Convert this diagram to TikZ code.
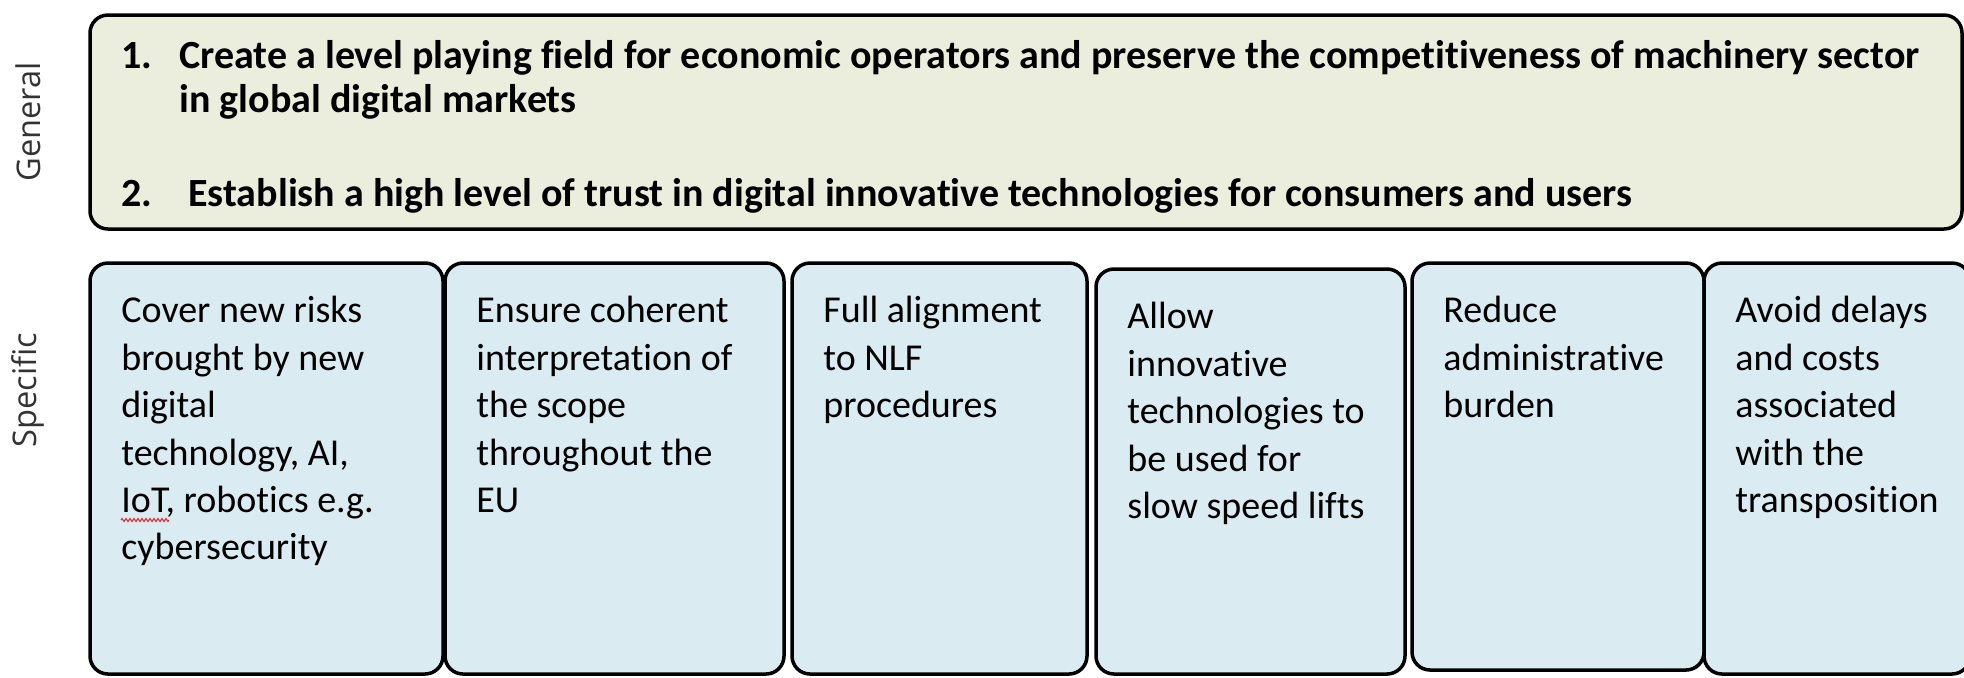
\documentclass[tikz,border=0pt]{standalone}
\usepackage{fontspec}
\setmainfont{Carlito}[Ligatures=NoCommon]
\newfontfamily\sidefont{Open Sans}
\usepackage{xcolor}
\usepackage{tikz}
\usetikzlibrary{positioning,decorations.pathmorphing}
\definecolor{goalFill}{HTML}{EBEEDD}
\definecolor{specFill}{HTML}{DAEBF1}
\definecolor{sideGray}{HTML}{333333}
\definecolor{spellRed}{HTML}{E0303A}

\begin{document}
\begin{tikzpicture}[
  x=1pt, y=1pt,
  goal/.style={rectangle, rounded corners=9pt, draw=black, line width=1.75pt, fill=goalFill,
    outer sep=0pt, inner sep=0pt},
  spec/.style={rectangle, rounded corners=9pt, draw=black, line width=1.75pt, fill=specFill,
    minimum height=205.5pt, outer sep=0pt, inner sep=0pt},
  goaltxt/.style={align=left, inner sep=0pt, font=\fontsize{20}{22}\selectfont\bfseries},
  spectxt/.style={align=left, inner sep=0pt, font=\fontsize{19}{23.7}\selectfont},
  side/.style={rotate=90, font=\sidefont\fontsize{16.3}{18}\selectfont, text=sideGray}
]
  \useasboundingbox (0,0) rectangle (982,-338.5);

  \node[goal, minimum width=936pt, minimum height=107pt, anchor=north west] (gen) at (45,-7.5) {};
  \node[goaltxt, below right=12.5pt and 15.5pt of gen.north west] (gentxt)
    {\makebox[29pt][l]{1.}Create a level playing field for economic operators and preserve the competitiveness of machinery sector\\
     \hspace*{29pt}in global digital markets\\[25pt]
     \makebox[33.5pt][l]{2.}Establish a high level of trust in digital innovative technologies for consumers and users};

  \node[spec, minimum width=176.5pt, anchor=north west] (s1) at (45,-131.5) {};
  \node[spec, minimum width=169.5pt, right=1pt of s1] (s2) {};
  \node[spec, minimum width=147.5pt, right=4pt of s2] (s3) {};
  \node[spec, minimum width=154.5pt, minimum height=202.5pt, right=4.5pt of s3, yshift=-1.5pt] (s4) {};
  \node[spec, minimum width=146pt, minimum height=203.5pt, right=3.5pt of s4, yshift=2.5pt] (s5) {};
  \node[spec, minimum width=133pt, right=0pt of s5, yshift=-1pt] (s6) {};

  \foreach \n/\txt in {s1/{Cover new risks\\brought by new\\digital\\technology, AI,\\IoT, robotics e.g.\\cybersecurity},
                       s2/{Ensure coherent\\interpretation of\\the scope\\throughout the\\EU},
                       s3/{Full alignment\\to NLF\\procedures},
                       s4/{Allow\\innovative\\technologies to\\be used for\\slow speed lifts},
                       s5/{Reduce\\administrative\\burden},
                       s6/{Avoid delays\\and costs\\associated\\with the\\transposition}}{
    \node[spectxt, below right=16.5pt and 15.5pt of \n.north west] (\n txt) {\txt};
  }

  \draw[spellRed, line width=0.6pt, decorate, decoration={zigzag, segment length=2pt, amplitude=0.7pt}]
    ([shift={(15.5,-128.5)}]s1.north west) -- ++(24,0);

  \node[side] (glab) at (14,-61) {General};
  \node[side] (slab) at (14,-195) {Specific};
\end{tikzpicture}
\end{document}
